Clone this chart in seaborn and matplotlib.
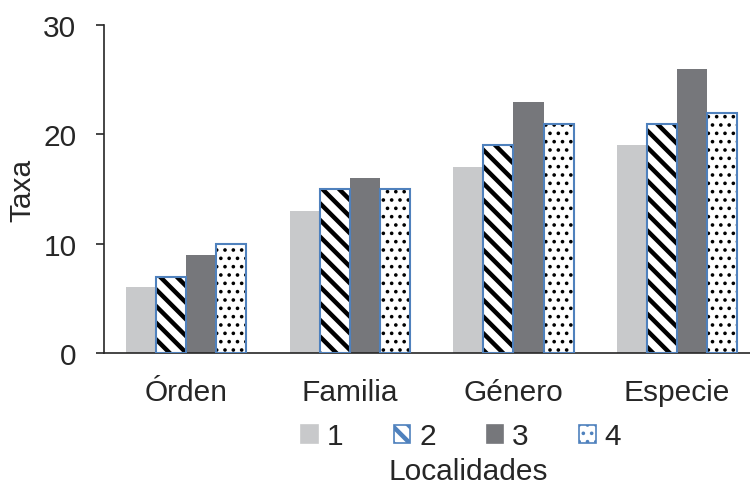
import matplotlib
matplotlib.use("Agg")
import matplotlib.pyplot as plt
from matplotlib.patches import Patch
import seaborn as sns
import pandas as pd

# Taxonomic levels and number of taxa per locality
categories = ["Órden", "Familia", "Género", "Especie"]
localidades = ["1", "2", "3", "4"]
loc1 = [6, 13, 17, 19]
loc2 = [7, 15, 19, 21]
loc3 = [9, 16, 23, 26]
loc4 = [10, 15, 21, 22]
yticks = [0, 10, 20, 30]

rows = []
for loc, vals in zip(localidades, [loc1, loc2, loc3, loc4]):
    for cat, v in zip(categories, vals):
        rows.append({"Nivel": cat, "Localidad": loc, "Taxa": v})
df = pd.DataFrame(rows)

sns.set_theme(style="white")
plt.rcParams["font.family"] = ["Liberation Sans", "DejaVu Sans"]
plt.rcParams["hatch.linewidth"] = 3.2

FS = 21.5
TXT = "#262626"
face = {"1": "#C8C9CB", "2": "white", "3": "#76777B", "4": "white"}
hatch = {"1": None, "2": "\\\\", "3": None, "4": ".."}
hatch_lw = {"2": 3.2, "4": 1.4}
edge = {"1": "none", "2": "#4F81BD", "3": "none", "4": "#4F81BD"}

fig = plt.figure(figsize=(7.5, 4.85), dpi=100)
# the plotting area runs slightly past the right edge of the canvas
ax = fig.add_axes([0.139, 0.27, 0.873, 0.676])

sns.barplot(data=df, x="Nivel", y="Taxa", hue="Localidad", order=categories,
            hue_order=localidades, palette=[face[l] for l in localidades],
            width=0.735, saturation=1, legend=False, ax=ax, errorbar=None)


def style_hatch(patch, loc):
    if hatch[loc]:
        patch.set_hatch(hatch[loc])
        if hasattr(patch, "set_hatch_linewidth"):
            patch.set_hatch_linewidth(hatch_lw[loc])


for loc, cont in zip(localidades, ax.containers):
    for bar in cont:
        bar.set_facecolor(face[loc])
        bar.set_linewidth(0)
        if hatch[loc]:
            bar.set_edgecolor("black")
        style_hatch(bar, loc)
        if edge[loc] != "none":
            x, w, h = bar.get_x(), bar.get_width(), bar.get_height()
            ax.add_patch(plt.Rectangle((x, 0), w, h, fill=False,
                                       edgecolor=edge[loc], linewidth=1.5, zorder=3))

ax.set_ylim(0, 30)
ax.set_yticks(yticks)
ax.set_xlim(-0.5, 3.5)
for s in ["top", "right"]:
    ax.spines[s].set_visible(False)
for s in ["left", "bottom"]:
    ax.spines[s].set_color(TXT)
    ax.spines[s].set_linewidth(1.2)
ax.tick_params(axis="y", left=True, length=6, width=1.2, color=TXT,
               labelsize=FS, labelcolor=TXT, pad=14)
ax.tick_params(axis="x", bottom=False, labelsize=FS, labelcolor=TXT, pad=12)
ax.set_ylabel("Taxa", fontsize=FS, color=TXT, labelpad=5)
ax.set_xlabel("")

handles = []
for loc in localidades:
    p = Patch(facecolor=face[loc],
              edgecolor=(edge[loc] if edge[loc] != "none" else face[loc]),
              linewidth=1.2, label=loc)
    handles.append(p)
leg = fig.legend(handles=handles, loc="center", bbox_to_anchor=(0.615, 0.098), ncol=4,
                 frameon=False, fontsize=FS, handlelength=0.55, handleheight=0.55,
                 handletextpad=0.3, columnspacing=1.7, labelcolor=TXT,
                 borderpad=0, borderaxespad=0)
for loc, h in zip(localidades, leg.legend_handles):
    if hatch[loc]:
        h.set_hatch(hatch[loc])
        if hasattr(h, "set_hatch_linewidth"):
            h.set_hatch_linewidth(hatch_lw[loc])
fig.text(0.624, 0.027, "Localidades", ha="center", va="center",
         fontsize=FS, color=TXT)

fig.savefig("out.png", dpi=100)
